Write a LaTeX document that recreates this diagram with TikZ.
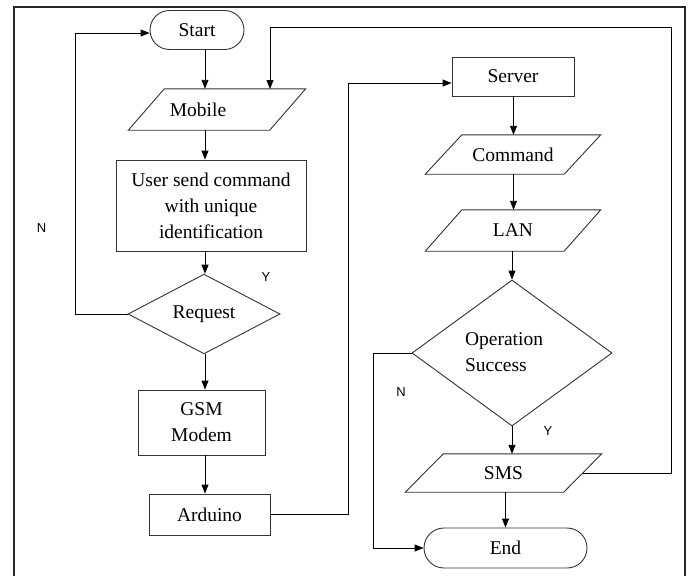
\documentclass[tikz,border=0pt]{standalone}
\usepackage{fontspec}
\setmainfont{Liberation Serif}
\newfontfamily\lblfont{Liberation Sans}
\usetikzlibrary{shapes.geometric,shapes.misc,arrows.meta}
\newcommand\paraout[2]{\draw[shp] ([xshift=#2]#1.north west) -- ([xshift=#2]#1.north east) -- ([xshift=-#2]#1.south east) -- ([xshift=-#2]#1.south west) -- cycle;}
\begin{document}
\begin{tikzpicture}[x=1pt,y=-1pt,
  every node/.style={font=\fontsize{19.5}{26}\selectfont, inner sep=0pt},
  shp/.style={draw=black!80, line width=0.9pt},
  term/.style={rounded rectangle, shp},
  proc/.style={rectangle, shp},
  iobox/.style={rectangle, draw=none},
  dec/.style={diamond, shp},
  arr/.style={draw=black, line width=0.9pt, -{Triangle[length=9pt,width=7pt]}},
  ln/.style={draw=black, line width=0.9pt},
  yn/.style={font=\lblfont\fontsize{13}{13}\selectfont}
]
\useasboundingbox (0,0) rectangle (690,576);
\fill[white] (0,0) rectangle (690,576);
\draw[line width=1.3pt, black!85] (14,576) -- (14,7) -- (685,7) -- (685,576);

% left column
\node[term, minimum width=94, minimum height=39] (start) at (197,30) {Start};
\node[iobox, minimum width=141, minimum height=41] (mob) at (217,109.5) {\hspace*{-38pt}Mobile};
\paraout{mob}{18}
\node[proc, minimum width=190, minimum height=91, align=center] (user) at (211,205.5) {User send command\\with unique\\identification};
\node[dec, minimum width=152, minimum height=68] (req) at (204,314) {Request};
\node[proc, minimum width=127, minimum height=65, align=center] (gsm) at (201.5,422.5) {GSM\\Modem};
\node[proc, minimum width=121, minimum height=41] (ard) at (209.5,514.5) {Arduino};

% right column
\node[proc, minimum width=122, minimum height=39] (srv) at (513,76.5) {Server};
\node[iobox, minimum width=138.5, minimum height=39] (cmd) at (513,154.5) {Command};
\paraout{cmd}{18.3}
\node[iobox, minimum width=138.5, minimum height=41] (lan) at (513,230.5) {LAN};
\paraout{lan}{18.3}
\node[dec, minimum width=200, minimum height=146] (op) at (512,353) {\begin{tabular}{@{}l@{\hspace{16pt}}}Operation\\Success\end{tabular}};
\node[iobox, minimum width=158, minimum height=38] (sms) at (503.5,473) {SMS};
\paraout{sms}{19}
\node[term, minimum width=163, minimum height=40] (end) at (505.5,548) {End};

% labels
\node[yn] (n1) at (41.5,228.5) {N};
\node[yn] (y1) at (266,277.5) {Y};
\node[yn] (n2) at (401,392) {N};
\node[yn] (y2) at (548,431) {Y};

% helper coordinates
\coordinate (cL) at (205,0);
\coordinate (cR) at (513.5,0);
\coordinate (nl) at (75,33);
\coordinate (al) at (348,83);
\coordinate (nr) at (373,548);
\coordinate (loopR) at (671,27);
\coordinate (mobIn) at (270,89);

% connectors
\draw[arr] (start.south -| cL) -- (mob.north -| cL);
\draw[arr] (mob.south -| cL) -- (user.north -| cL);
\draw[arr] (user.south -| cL) -- (req.north -| cL);
\draw[arr] (req.west) -| (nl) -- (start.west |- nl);
\draw[arr] (req.south -| cL) -- (gsm.north -| cL);
\draw[arr] (gsm.south -| cL) -- (ard.north -| cL);
\draw[arr] (ard.east) -| (al) -- (srv.west |- al);
\draw[arr] (srv.south -| cR) -- (cmd.north -| cR);
\draw[arr] (cmd.south -| cR) -- (lan.north -| cR);
\draw[arr] (lan.south -| op.north) -- (op.north);
\draw[arr] (op.south) -- (op.south |- sms.north);
\draw[arr] (op.west) -| (nr) -- (end.west);
\draw[arr] (sms.south -| end.north) -- (end.north);
\draw[arr] (sms.east) -| (loopR) -| (mobIn);
\end{tikzpicture}
\end{document}
